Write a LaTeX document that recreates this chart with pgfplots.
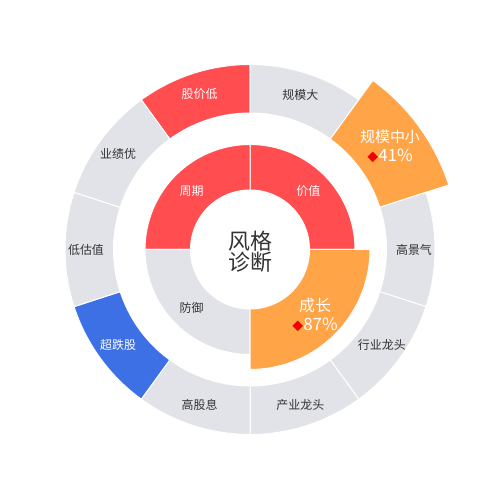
\documentclass[border=0pt]{standalone}
\usepackage{pgfplots}
\pgfplotsset{compat=1.18}
\usepackage{fontspec}
\setmainfont{Noto Sans CJK SC}

\definecolor{segred}{HTML}{FF4D50}
\definecolor{segorange}{HTML}{FFA447}
\definecolor{seggray}{HTML}{E2E3E8}
\definecolor{segblue}{HTML}{3D6FE5}
\definecolor{txtdark}{HTML}{333333}
\definecolor{mark}{HTML}{F20000}

% sector from the centre: start angle, end angle, radius, colour
\newcommand{\sector}[4]{%
  \addplot[fill=#4, draw=white, line width=1pt, domain=#1:#2, samples=40, variable=\t]
    ({#3*cos(\t)}, {#3*sin(\t)}) -- (axis cs:0,0) -- cycle;}
\newcommand{\hole}[1]{%
  \addplot[fill=white, draw=none, domain=0:360, samples=160, variable=\t]
    ({#1*cos(\t)}, {#1*sin(\t)}) -- cycle;}

\begin{document}
\begin{tikzpicture}
\begin{axis}[
  hide axis, scale only axis, clip=false,
  width=500bp, height=500bp,
  xmin=-250, xmax=250, ymin=-250.5, ymax=249.5,
]
  % outer ring, 10 styles of 36 degrees
  \sector{90}{126}{185}{segred}      % 股价低
  \sector{54}{90}{185}{seggray}      % 规模大
  \sector{18}{54}{209}{segorange}    % 规模中小
  \sector{-18}{18}{185}{seggray}     % 高景气
  \sector{-54}{-18}{185}{seggray}    % 行业龙头
  \sector{-90}{-54}{185}{seggray}    % 产业龙头
  \sector{-126}{-90}{185}{seggray}   % 高股息
  \sector{-162}{-126}{185}{segblue}  % 超跌股
  \sector{162}{198}{185}{seggray}    % 低估值
  \sector{126}{162}{185}{seggray}    % 业绩优
  \hole{137}
  % inner ring
  \sector{0}{90}{105}{segred}        % 价值
  \sector{90}{180}{105}{segred}      % 周期
  \sector{180}{270}{105}{seggray}    % 防御
  \sector{270}{360}{120}{segorange}  % 成长
  \hole{60}

  % outer labels
  \node[white, font=\fontsize{12}{14}\selectfont] at (axis cs:{163*cos(108)},{163*sin(108)}) {股价低};
  \node[txtdark, font=\fontsize{12}{14}\selectfont] at (axis cs:{163*cos(72)},{163*sin(72)}) {规模大};
  \node[txtdark, font=\fontsize{12}{14}\selectfont] at (axis cs:164,0) {高景气};
  \node[txtdark, font=\fontsize{12}{14}\selectfont] at (axis cs:{163*cos(-36)},{163*sin(-36)}) {行业龙头};
  \node[txtdark, font=\fontsize{12}{14}\selectfont] at (axis cs:{163*cos(-72)},{163*sin(-72)}) {产业龙头};
  \node[txtdark, font=\fontsize{12}{14}\selectfont] at (axis cs:{163*cos(-108)},{163*sin(-108)}) {高股息};
  \node[white, font=\fontsize{12}{14}\selectfont] at (axis cs:{163*cos(-144)},{163*sin(-144)}) {超跌股};
  \node[txtdark, font=\fontsize{12}{14}\selectfont] at (axis cs:-164,0) {低估值};
  \node[txtdark, font=\fontsize{12}{14}\selectfont] at (axis cs:{163*cos(144)},{163*sin(144)}) {业绩优};
  \node[white, align=center, font=\fontsize{15}{19}\selectfont] at (axis cs:140,103.5)
    {规模中小\\{\color{mark}\fontsize{11}{11}\selectfont◆}{\fontsize{17}{19}\selectfont 41\%}};

  % inner labels
  \node[white, font=\fontsize{12}{14}\selectfont] at (axis cs:{82.5*cos(45)},{82.5*sin(45)}) {价值};
  \node[white, font=\fontsize{12}{14}\selectfont] at (axis cs:{82.5*cos(135)},{82.5*sin(135)}) {周期};
  \node[txtdark, font=\fontsize{12}{14}\selectfont] at (axis cs:{82.5*cos(225)},{82.5*sin(225)}) {防御};
  \node[white, align=center, font=\fontsize{16}{19}\selectfont] at (axis cs:65,-65.5)
    {成长\\{\color{mark}\fontsize{11}{11}\selectfont◆}{\fontsize{17}{19}\selectfont 87\%}};

  % centre title
  \node[txtdark, align=center, font=\fontsize{22}{21}\selectfont] at (axis cs:0,-2.5) {风格\\诊断};
\end{axis}
\path (current axis.south west) rectangle (current axis.north east);
\end{tikzpicture}
\end{document}
